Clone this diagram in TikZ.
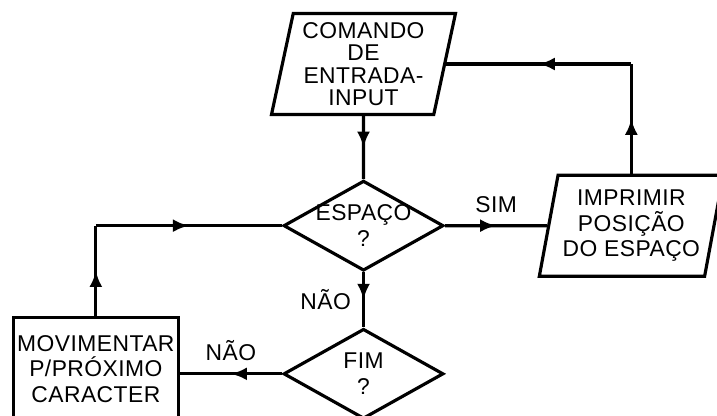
\documentclass[tikz,border=0pt]{standalone}
\usepackage{fontspec}
\setmainfont{Liberation Sans}[LetterSpace=2]
\usetikzlibrary{shapes,arrows.meta,positioning,calc,decorations.markings}

\begin{document}
\begin{tikzpicture}[
    node distance=1.2cm and 2cm,
    every node/.style={font=\fontsize{13pt}{14.5pt}\selectfont},
    io/.style={trapezium, draw, line width=1.8pt, trapezium left angle=76,
               trapezium right angle=104, trapezium stretches body, inner sep=1pt,
               minimum width=3.68cm, minimum height=2.02cm, align=center},
    decision/.style={diamond, draw, line width=1.8pt, aspect=1.78, inner sep=-3pt,
               minimum width=3.2cm, minimum height=1.8cm, align=center},
    block/.style={rectangle, draw, line width=1.8pt, minimum width=3.3cm,
               minimum height=2.04cm, inner sep=1pt, align=center},
    flow/.style={line width=1.8pt, postaction={decorate},
               decoration={markings, mark=at position 0.5 with
               {\arrow{Latex[length=3.2mm,width=2.6mm]}}}},
    lbl/.style={font=\fontsize{13pt}{14pt}\selectfont}
]
\useasboundingbox (0,0) rectangle (14.34,8.3);

%% -- Nodes --------------------------------------------------------
\node[io, font=\fontsize{13pt}{12.8pt}\selectfont] (input) at (7.27,7.02)
    {COMANDO\\DE\\ENTRADA-\\INPUT};

\node[decision, below=1.26cm of input] (espaco) {ESPAÇO\\?};

\node[decision, below=1.1cm of espaco] (fim) {FIM\\?};

\node[io, inner xsep=-2pt, right=2.04cm of espaco] (imprimir)
    {IMPRIMIR\\POSIÇÃO\\DO ESPAÇO};

\node[block, left=2.04cm of fim, yshift=0.1cm] (mover) {MOVIMENTAR\\P/PRÓXIMO\\CARACTER};

\coordinate (ne) at (imprimir.north |- input.east);
\coordinate (nw) at (mover.north |- espaco.west);

%% -- Arrows -------------------------------------------------------
\draw[flow] (input) -- (espaco);
\draw[flow] (espaco) -- node[lbl, left=3pt] {NÃO} (fim);
\draw[flow] (espaco) -- node[lbl, above=3pt] {SIM} (imprimir);
\draw[flow] (imprimir.north) -- (ne);
\draw[flow] (ne) -- (input.east);
\draw[flow] (fim.west) -- node[lbl, above=3pt] {NÃO} (fim.west -| mover.east);
\draw[flow] (mover.north) -- (nw);
\draw[flow] (nw) -- (espaco.west);
\end{tikzpicture}
\end{document}
